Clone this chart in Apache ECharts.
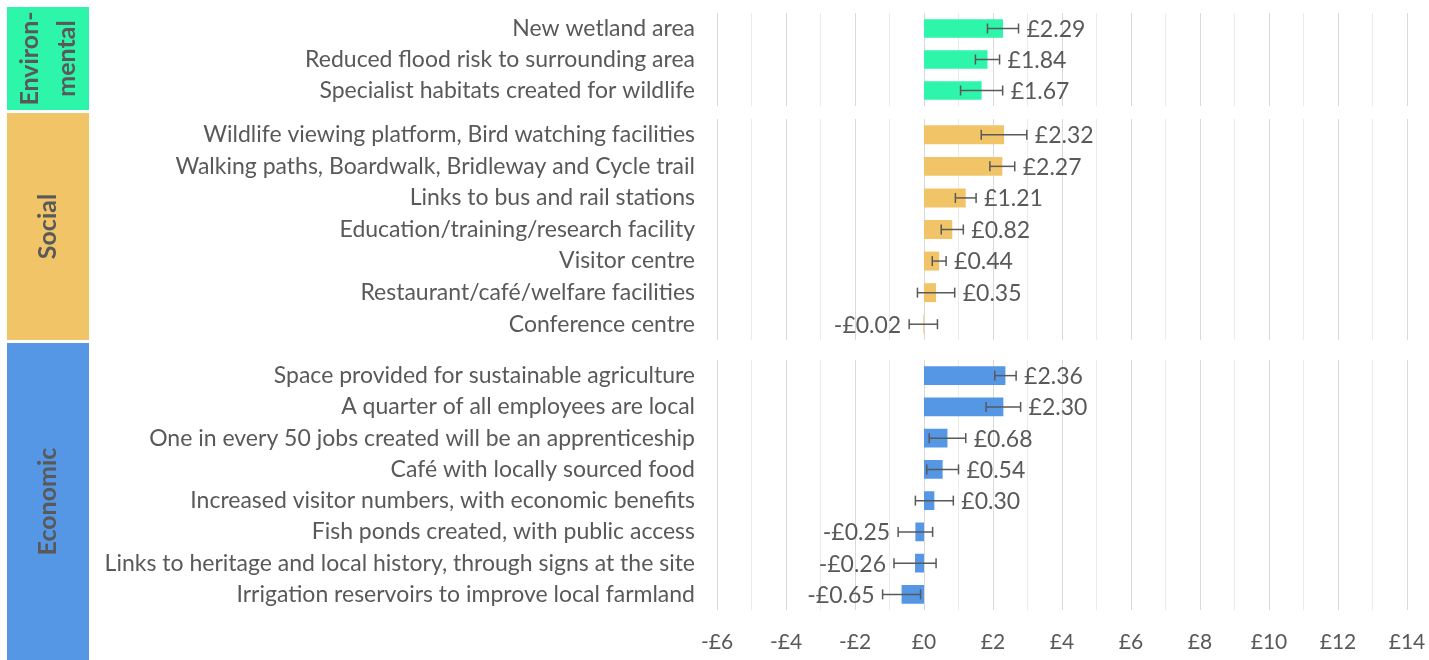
<!DOCTYPE html>
<html>
<head>
<meta charset="utf-8">
<script src="https://cdn.jsdelivr.net/npm/echarts@6/dist/echarts.min.js"></script>
<style>
  html, body { margin: 0; padding: 0; background: #fff; }
  #chart { width: 1429px; height: 660px; }
</style>
</head>
<body>
<div id="chart"></div>
<script>
// Willingness to pay (£) per feature, with error margins, grouped by theme
const envCats = ['New wetland area', 'Reduced flood risk to surrounding area', 'Specialist habitats created for wildlife'];
const envVals = [2.29, 1.84, 1.67];
const envErr = [0.45, 0.35, 0.61];

const socCats = ['Wildlife viewing platform, Bird watching facilities', 'Walking paths, Boardwalk, Bridleway and Cycle trail',
  'Links to bus and rail stations', 'Education/training/research facility', 'Visitor centre',
  'Restaurant/café/welfare facilities', 'Conference centre'];
const socVals = [2.32, 2.27, 1.21, 0.82, 0.44, 0.35, -0.02];
const socErr = [0.66, 0.36, 0.30, 0.32, 0.20, 0.54, 0.41];

const ecoCats = ['Space provided for sustainable agriculture', 'A quarter of all employees are local',
  'One in every 50 jobs created will be an apprenticeship', 'Café with locally sourced food',
  'Increased visitor numbers, with economic benefits', 'Fish ponds created, with public access',
  'Links to heritage and local history, through signs at the site', 'Irrigation reservoirs to improve local farmland'];
const ecoVals = [2.36, 2.30, 0.68, 0.54, 0.30, -0.25, -0.26, -0.65];
const ecoErr = [0.31, 0.50, 0.53, 0.46, 0.55, 0.50, 0.61, 0.55];

const groupNames = ['Environ-\nmental', 'Social', 'Economic'];
const xMin = -6, xMax = 14, xStep = 2;

const FONT = 'Lato';
const TEXT = '#595959';
const colors = ['#2DF5AA', '#F1C567', '#5596E5'];

const groups = [
  { cats: envCats, vals: envVals, err: envErr, top: 13, height: 93 },
  { cats: socCats, vals: socVals, err: socErr, top: 119, height: 221 },
  { cats: ecoCats, vals: ecoVals, err: ecoErr, top: 360, height: 250 }
];

function money(v) {
  const a = Math.abs(v);
  return (v < 0 ? '-£' : '£') + a.toFixed(2);
}

const grid = [], xAxis = [], yAxis = [], series = [];
groups.forEach((g, i) => {
  grid.push({ left: 717, right: 22, top: g.top, height: g.height });
  xAxis.push({
    type: 'value', gridIndex: i, min: xMin, max: xMax, interval: xStep,
    axisLine: { show: false }, axisTick: { show: false },
    splitLine: { show: true, lineStyle: { color: '#D9D9D9', width: 1 } },
    minorTick: { show: false, splitNumber: 2 },
    minorSplitLine: { show: true, lineStyle: { color: '#EBEBEB', width: 1 } },
    axisLabel: {
      show: i === groups.length - 1, margin: 22, color: TEXT, fontFamily: FONT, fontSize: 21,
      formatter: v => (v < 0 ? '-£' + Math.abs(v) : '£' + v)
    }
  });
  yAxis.push({
    type: 'category', gridIndex: i, data: g.cats, inverse: true,
    axisLine: { show: false }, axisTick: { show: false }, splitLine: { show: false },
    axisLabel: { margin: 22, color: TEXT, fontFamily: FONT, fontSize: 23 }
  });
  series.push({
    type: 'bar', xAxisIndex: i, yAxisIndex: i, data: g.vals, barWidth: '60%',
    itemStyle: { color: colors[i] }, silent: true
  });
  // error bars with caps, and the value label past the bar's far end
  series.push({
    type: 'custom', xAxisIndex: i, yAxisIndex: i, silent: true, z: 5,
    data: g.vals.map((v, k) => [v - g.err[k], v + g.err[k], k, v]),
    encode: { x: [0, 1], y: 2 },
    renderItem: (params, api) => {
      const lo = api.value(0), hi = api.value(1), k = api.value(2), v = api.value(3);
      const p0 = api.coord([lo, k]);
      const p1 = api.coord([hi, k]);
      const cap = 5;
      const ls = { stroke: TEXT, lineWidth: 1.5 };
      const pos = v >= 0;
      return {
        type: 'group',
        children: [
          { type: 'line', shape: { x1: p0[0], y1: p0[1], x2: p1[0], y2: p1[1] }, style: ls },
          { type: 'line', shape: { x1: p0[0], y1: p0[1] - cap, x2: p0[0], y2: p0[1] + cap }, style: ls },
          { type: 'line', shape: { x1: p1[0], y1: p1[1] - cap, x2: p1[0], y2: p1[1] + cap }, style: ls },
          {
            type: 'text',
            x: pos ? p1[0] + 8 : p0[0] - 8, y: p0[1] + 1,
            style: {
              text: money(v), fill: TEXT, fontFamily: FONT, fontSize: 23,
              align: pos ? 'left' : 'right', verticalAlign: 'middle'
            }
          }
        ]
      };
    }
  });
});

// coloured theme panels down the left side
const panels = [
  { y: 7, h: 103 },
  { y: 113, h: 227 },
  { y: 343, h: 317 }
];
const graphic = [];
panels.forEach((p, i) => {
  graphic.push({ type: 'rect', left: 7, top: p.y, shape: { width: 82, height: p.h }, style: { fill: colors[i] }, silent: true });
  graphic.push({
    type: 'text', x: 48, y: p.y + p.h / 2, rotation: Math.PI / 2, silent: true,
    style: {
      text: groupNames[i], fill: TEXT, fontFamily: FONT, fontWeight: 'bold', fontSize: 25,
      align: 'center', verticalAlign: 'middle', lineHeight: 37
    }
  });
});

const chart = echarts.init(document.getElementById('chart'), null, { renderer: 'canvas' });
chart.setOption({
  animation: false,
  backgroundColor: '#fff',
  grid, xAxis, yAxis, series, graphic
});
</script>
</body>
</html>
